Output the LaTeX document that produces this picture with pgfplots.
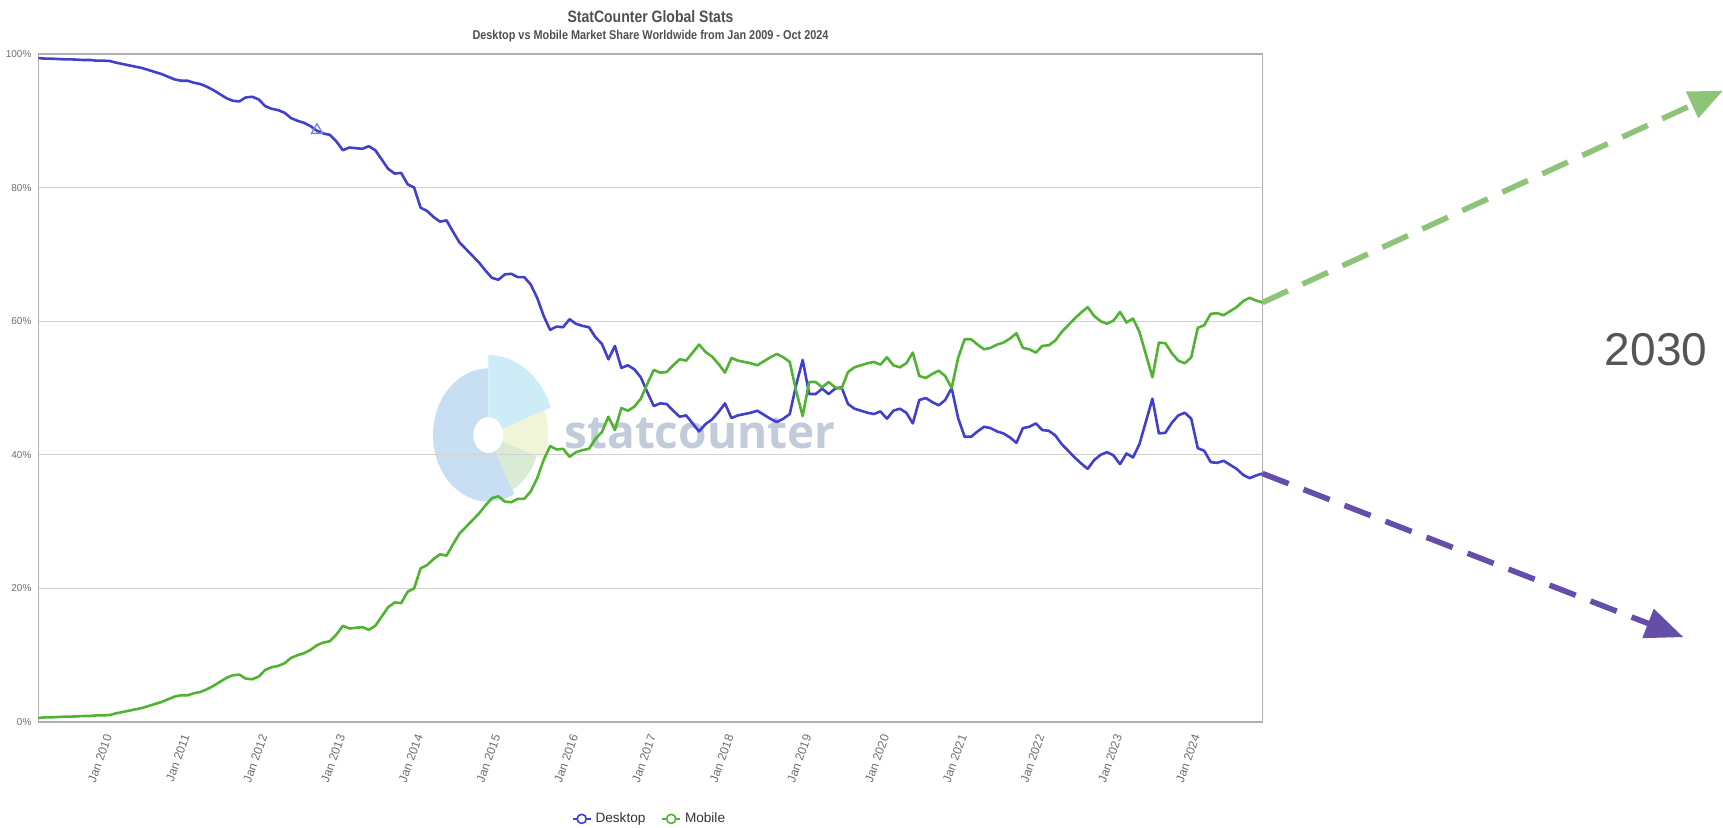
\documentclass[border=0pt]{standalone}
\usepackage{fontspec}
\setmainfont{Liberation Sans}
\newfontfamily\narrowfont[FakeStretch=0.85]{Liberation Sans}
\newfontfamily\wmfont{Open Sans}
\usepackage{pgfplots}
\pgfplotsset{compat=1.18}
\usepackage{pgfplotstable}
\usetikzlibrary{arrows.meta}
\pgfdeclarelayer{background}
\pgfsetlayers{background,main}

\definecolor{deskblue}{RGB}{64,64,204}
\definecolor{mobgreen}{RGB}{80,180,50}
\definecolor{arrgreen}{RGB}{141,196,120}
\definecolor{arrpurple}{RGB}{100,78,170}
\definecolor{gridgray}{RGB}{210,210,210}
\definecolor{framegray}{RGB}{175,175,175}
\definecolor{tickgray}{RGB}{110,110,110}
\definecolor{titlegray}{RGB}{80,80,80}
\definecolor{gray2030}{RGB}{85,85,85}
\definecolor{logoblue}{RGB}{200,222,242}
\definecolor{logocyan}{RGB}{205,236,248}
\definecolor{logoyellow}{RGB}{240,245,215}
\definecolor{logogreen}{RGB}{218,235,212}
\definecolor{wmtext}{RGB}{194,203,218}
\definecolor{trimark}{RGB}{130,130,220}

\pgfplotstableread{
m D M
0 99.4 0.6
1 99.3 0.7
2 99.3 0.7
3 99.25 0.75
4 99.2 0.8
5 99.2 0.8
6 99.15 0.85
7 99.1 0.9
8 99.1 0.9
9 99.0 1.0
10 99.0 1.0
11 98.95 1.05
12 98.7 1.3
13 98.5 1.5
14 98.3 1.7
15 98.1 1.9
16 97.9 2.1
17 97.6 2.4
18 97.3 2.7
19 97.0 3.0
20 96.6 3.4
21 96.2 3.8
22 96.0 4.0
23 96.0 4.0
24 95.7 4.3
25 95.5 4.5
26 95.1 4.9
27 94.6 5.4
28 94.0 6.0
29 93.4 6.6
30 93.0 7.0
31 92.9 7.1
32 93.5 6.5
33 93.6 6.4
34 93.2 6.8
35 92.2 7.8
36 91.8 8.2
37 91.6 8.4
38 91.2 8.8
39 90.4 9.6
40 90.0 10.0
41 89.7 10.3
42 89.2 10.8
43 88.5 11.5
44 88.1 11.9
45 87.9 12.1
46 86.9 13.1
47 85.6 14.4
48 86.0 14.0
49 85.9 14.1
50 85.8 14.2
51 86.2 13.8
52 85.6 14.4
53 84.2 15.8
54 82.8 17.2
55 82.1 17.9
56 82.2 17.8
57 80.5 19.5
58 80.0 20.0
59 77.0 23.0
60 76.5 23.5
61 75.6 24.4
62 74.9 25.1
63 75.1 24.9
64 73.4 26.6
65 71.8 28.2
66 70.8 29.2
67 69.8 30.2
68 68.8 31.2
69 67.6 32.4
70 66.5 33.5
71 66.2 33.8
72 67.0 33.0
73 67.1 32.9
74 66.6 33.4
75 66.6 33.4
76 65.5 34.5
77 63.5 36.5
78 60.8 39.2
79 58.7 41.3
80 59.2 40.8
81 59.1 40.9
82 60.3 39.7
83 59.6 40.4
84 59.3 40.7
85 59.1 40.9
86 57.6 42.4
87 56.6 43.4
88 54.3 45.7
89 56.3 43.7
90 53.0 47.0
91 53.4 46.6
92 52.8 47.2
93 51.6 48.4
94 49.4 50.6
95 47.3 52.7
96 47.7 52.3
97 47.6 52.4
98 46.6 53.4
99 45.7 54.3
100 45.9 54.1
101 44.7 55.3
102 43.5 56.5
103 44.6 55.4
104 45.3 54.7
105 46.4 53.6
106 47.7 52.3
107 45.5 54.5
108 45.9 54.1
109 46.1 53.9
110 46.3 53.7
111 46.6 53.4
112 46.0 54.0
113 45.4 54.6
114 44.9 55.1
115 45.4 54.6
116 46.1 53.9
117 50.5 49.5
118 54.2 45.8
119 49.1 50.9
120 49.1 50.9
121 49.9 50.1
122 49.1 50.9
123 49.9 50.1
124 50.1 49.9
125 47.6 52.4
126 46.9 53.1
127 46.6 53.4
128 46.3 53.7
129 46.1 53.9
130 46.5 53.5
131 45.4 54.6
132 46.6 53.4
133 46.9 53.1
134 46.3 53.7
135 44.7 55.3
136 48.2 51.8
137 48.5 51.5
138 47.9 52.1
139 47.4 52.6
140 48.2 51.8
141 50.0 50.0
142 45.5 54.5
143 42.7 57.3
144 42.7 57.3
145 43.5 56.5
146 44.2 55.8
147 44.0 56.0
148 43.5 56.5
149 43.2 56.8
150 42.6 57.4
151 41.8 58.2
152 44.0 56.0
153 44.2 55.8
154 44.7 55.3
155 43.7 56.3
156 43.6 56.4
157 42.9 57.1
158 41.6 58.4
159 40.6 59.4
160 39.6 60.4
161 38.7 61.3
162 37.9 62.1
163 39.2 60.8
164 40.0 60.0
165 40.4 59.6
166 39.9 60.1
167 38.6 61.4
168 40.2 59.8
169 39.6 60.4
170 41.6 58.4
171 45.0 55.0
172 48.4 51.6
173 43.2 56.8
174 43.3 56.7
175 44.8 55.2
176 45.9 54.1
177 46.3 53.7
178 45.4 54.6
179 41.0 59.0
180 40.6 59.4
181 38.9 61.1
182 38.8 61.2
183 39.1 60.9
184 38.5 61.5
185 37.9 62.1
186 37.0 63.0
187 36.5 63.5
188 36.9 63.1
189 37.2 62.8
}\sharedata

\begin{document}
\begin{tikzpicture}
\useasboundingbox (0,0) rectangle (861.5pt,413.5pt);
\begin{pgfonlayer}{background}
  \begin{scope}[shift={(244.15pt,196pt)}, xscale=0.83]
    \fill[logoblue] (0pt,0pt) -- (90:33.3pt) arc[start angle=90,end angle=298,radius=33.3pt] -- cycle;
    \fill[logocyan] (0pt,0pt) -- (90:40pt) arc[start angle=90,end angle=20,radius=40pt] -- cycle;
    \fill[logoyellow] (0pt,0pt) -- (20:36pt) arc[start angle=20,end angle=-20,radius=36pt] -- cycle;
    \fill[logogreen] (0pt,0pt) -- (-20:31pt) arc[start angle=-20,end angle=-62,radius=31pt] -- cycle;
    \fill[white] (0pt,0pt) circle (9pt);
  \end{scope}
  \node[anchor=base west, inner sep=0pt, font=\wmfont\bfseries\fontsize{23}{24}\selectfont, text=wmtext] at (282pt,189.35pt) {statcounter};
\end{pgfonlayer}
\begin{axis}[
  at={(19.25pt,52.5pt)}, anchor=south west,
  width=612pt, height=334pt, scale only axis,
  xmin=0, xmax=189, ymin=0, ymax=100,
  clip=false,
  xtick={12,24,36,48,60,72,84,96,108,120,132,144,156,168,180},
  xticklabels={Jan 2010,Jan 2011,Jan 2012,Jan 2013,Jan 2014,Jan 2015,Jan 2016,Jan 2017,Jan 2018,Jan 2019,Jan 2020,Jan 2021,Jan 2022,Jan 2023,Jan 2024},
  ytick={0,20,40,60,80,100},
  yticklabels={0\%,20\%,40\%,60\%,80\%,100\%},
  major tick length=0pt,
  ymajorgrids,
  grid style={draw=gridgray, line width=0.6pt},
  axis line style={draw=framegray, line width=0.7pt},
  yticklabel style={font=\fontsize{5}{6}\selectfont, text=tickgray},
  xticklabel style={xshift=-2.75pt, yshift=-3.3pt, font=\fontsize{6}{7}\selectfont, text=tickgray, rotate=70, anchor=east},
  legend style={at={(0.5,-0.145)}, anchor=center, draw=none, fill=none,
    font=\fontsize{6.8}{8}\selectfont, text=black!80,
    /tikz/every even column/.append style={column sep=6pt}},
  legend columns=2,
  legend image code/.code={
    \draw[#1, line width=0.8pt] (0pt,0pt) -- (9pt,0pt);
    \draw[#1, line width=0.8pt, fill=white] (4.5pt,0pt) circle (2.3pt);
  },
]
\node[font=\narrowfont\bfseries\fontsize{8.25}{10}\selectfont, text=titlegray] at (axis description cs:0.5,1.0558) {StatCounter Global Stats};
\node[font=\narrowfont\bfseries\fontsize{6.4}{8}\selectfont, text=titlegray] at (axis description cs:0.5,1.0266) {Desktop vs Mobile Market Share Worldwide from Jan 2009 - Oct 2024};

\addplot[deskblue, line width=1.3pt, line join=round] table[x=m, y=D] {\sharedata};
\addlegendentry{Desktop}
\addplot[mobgreen, line width=1.3pt, line join=round] table[x=m, y=M] {\sharedata};
\addlegendentry{Mobile}

\addplot[forget plot, only marks, mark=triangle, mark size=3.2pt, trimark, mark options={line width=0.7pt}] coordinates {(43,88.6)};

\addplot[forget plot, arrgreen, line width=2.8pt, dash pattern=on 14pt off 8pt, -{Triangle[length=17pt,width=14pt]}] coordinates {(189,62.8) (260.1,94.5)};
\addplot[forget plot, arrpurple, line width=2.8pt, dash pattern=on 14pt off 8pt, -{Triangle[length=19pt,width=15pt]}] coordinates {(189,37.2) (254.0,12.7)};
\end{axis}
\node[font=\fontsize{23}{26}\selectfont, text=gray2030, inner sep=0pt] at (828pt,238.75pt) {2030};
\end{tikzpicture}
\end{document}
